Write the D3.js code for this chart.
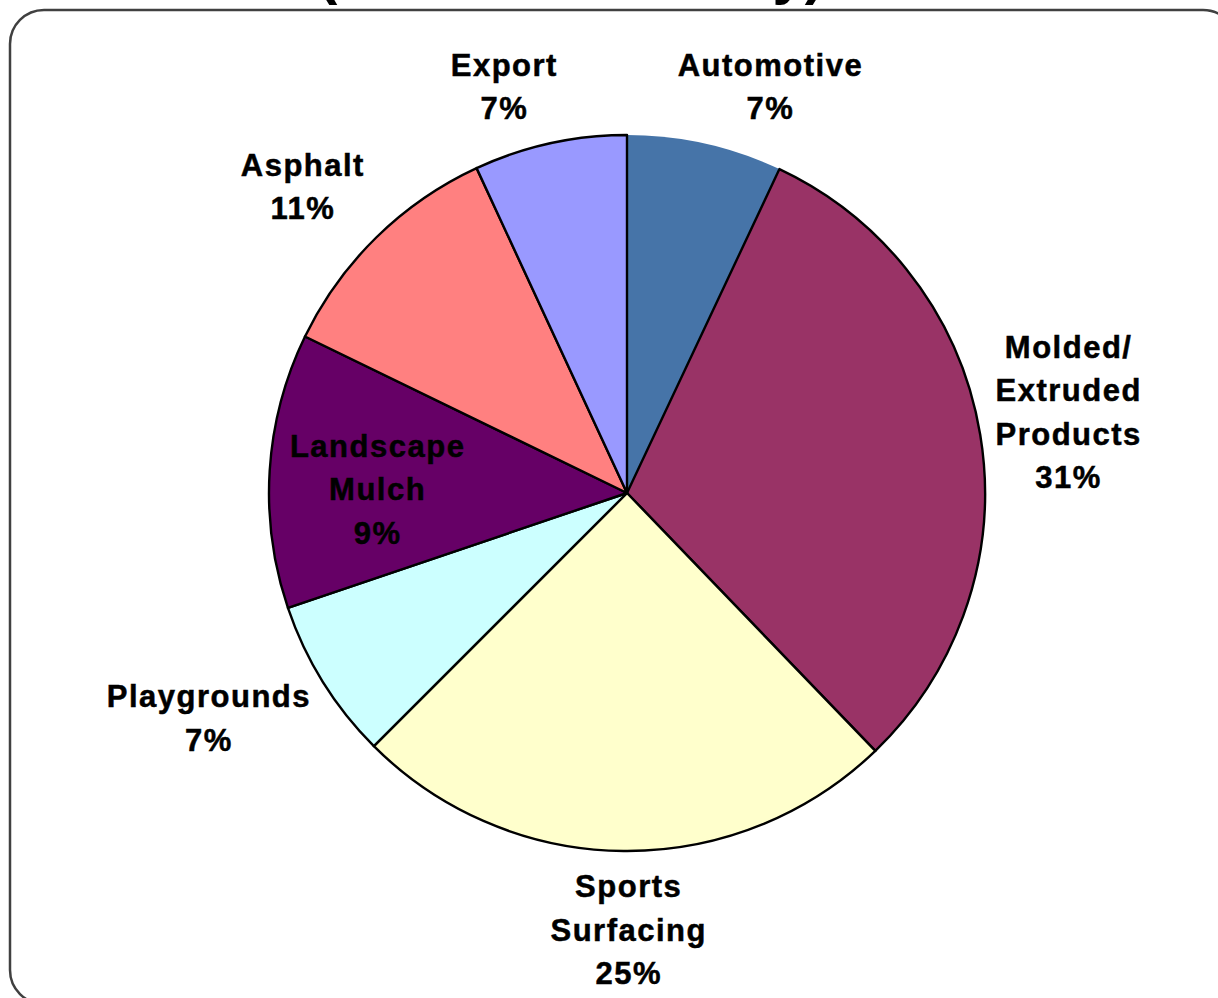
<!DOCTYPE html>
<html>
<head>
<meta charset="utf-8">
<script src="https://cdn.jsdelivr.net/npm/d3@7"></script>
<style>
  html, body { margin: 0; padding: 0; background: #fff; }
  text { font-family: "Liberation Sans", Arial, sans-serif; font-weight: bold; }
</style>
</head>
<body>
<div id="chart"></div>
<script>
"use strict";
// categories clockwise from 12 o'clock
const categories = ["Automotive", "Molded/Extruded Products", "Sports Surfacing", "Playgrounds", "Landscape Mulch", "Asphalt", "Export"];
// slice shares as drawn (percent of the circle)
const shares = [7.0, 30.8, 24.7, 7.3, 12.4, 10.9, 6.9];
// percentage labels printed on the chart
const pctLabels = ["7%", "31%", "25%", "7%", "9%", "11%", "7%"];
// label text lines
const labelLines = [["Automotive"], ["Molded/", "Extruded", "Products"], ["Sports", "Surfacing"], ["Playgrounds"], ["Landscape", "Mulch"], ["Asphalt"], ["Export"]];
const colors = ["#4674A8", "#993366", "#FFFFCC", "#CCFFFF", "#660066", "#FF8080", "#9999FF"];

const width = 1218, height = 998;
const cx = 627, cy = 493, radius = 358;

const svg = d3.select("#chart").append("svg")
    .attr("width", width).attr("height", height);

// title, mostly cut off at the top of the frame
svg.append("text")
    .attr("x", 318).attr("y", -7)
    .attr("font-size", 58)
    .text("(Market Summary)");

// chart frame
svg.append("rect")
    .attr("x", 10).attr("y", 10)
    .attr("width", 1227).attr("height", 994)
    .attr("rx", 34).attr("ry", 34)
    .attr("fill", "none")
    .attr("stroke", "#404040")
    .attr("stroke-width", 2.5);

const data = categories.map((c, i) => ({ name: c, value: shares[i], pct: pctLabels[i], lines: labelLines[i], color: colors[i] }));

const pie = d3.pie().value(d => d.value).sort(null);
const arcs = pie(data);
const arc = d3.arc().innerRadius(0).outerRadius(radius);

const g = svg.append("g").attr("transform", `translate(${cx},${cy})`);

g.selectAll(".slice").data(arcs).enter()
    .append("path")
    .attr("class", "slice")
    .attr("d", arc)
    .attr("fill", d => d.data.color)
    .attr("stroke", (d, i) => i === 0 ? "none" : "#000")
    .attr("stroke-width", 2.4)
    .attr("stroke-linejoin", "round");

// label placement: point on a ring at the mid angle, nudged like the original
const labelLayout = {
    "Automotive": { k: 1.2, dx: 49, dy: 13 },
    "Molded/Extruded Products": { k: 1.2, dx: 17, dy: -11 },
    "Sports Surfacing": { k: 1.2, dx: 5, dy: 7 },
    "Playgrounds": { k: 1.2, dx: -54, dy: -2 },
    "Landscape Mulch": { k: 0.7, dx: 0, dy: 12 },
    "Asphalt": { k: 1.2, dx: -24, dy: 0 },
    "Export": { k: 1.2, dx: -31, dy: 13 }
};
const lineH = 43.5;

const labels = g.selectAll(".lbl").data(arcs).enter()
    .append("text")
    .attr("class", "lbl")
    .attr("font-size", 31)
    .attr("letter-spacing", 1.5)
    .attr("text-anchor", "middle")
    .attr("fill", "#000")
    .attr("stroke", "#000")
    .attr("stroke-width", 0.5)
    .attr("transform", d => {
        const L = labelLayout[d.data.name];
        const a = (d.startAngle + d.endAngle) / 2;
        const r = radius * L.k;
        return `translate(${r * Math.sin(a) + L.dx},${-r * Math.cos(a) + L.dy})`;
    });

labels.selectAll("tspan")
    .data(d => d.data.lines.concat([d.data.pct]))
    .join("tspan")
    .attr("x", 0.75)
    .attr("y", (d, i, nodes) => (i - (nodes.length - 1) / 2) * lineH + 11)
    .text(d => d);
</script>
</body>
</html>
